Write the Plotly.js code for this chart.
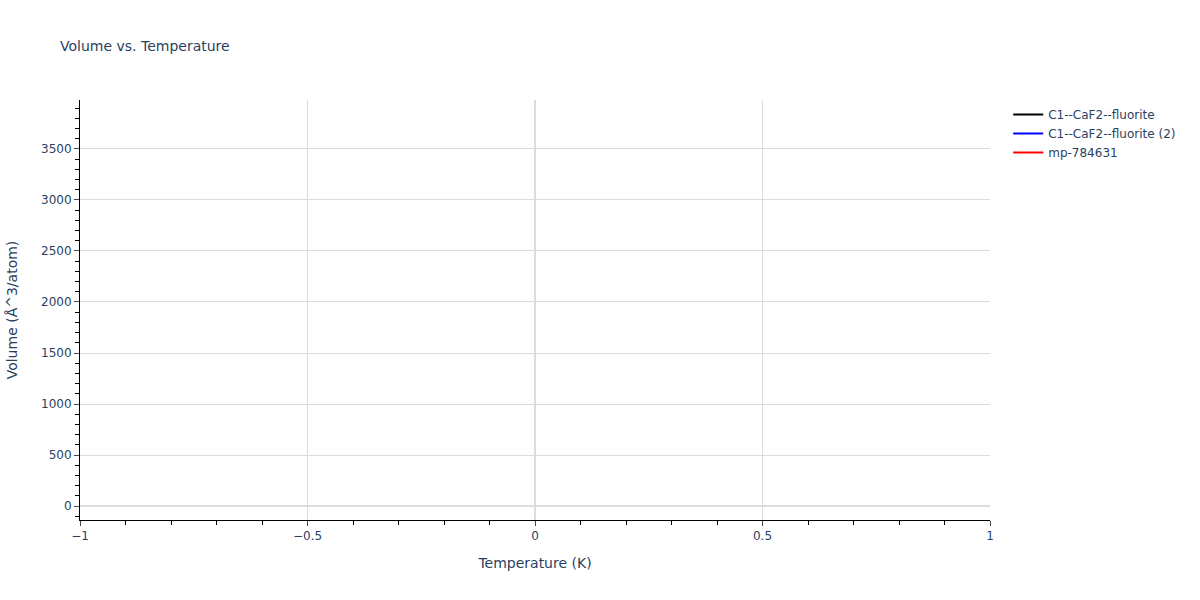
<!DOCTYPE html>
<html>
<head>
<meta charset="utf-8">
<script src="https://cdn.plot.ly/plotly-3.0.1.min.js"></script>
<style>
  body{margin:0;padding:0;}
  #chart{width:1200px;height:600px;}
</style>
</head>
<body>
<div id="chart"></div>
<script>
"use strict"

// every phase has only one temperature sample, so no line segment is drawn
const names = ["C1--CaF2--fluorite", "C1--CaF2--fluorite (2)", "mp-784631"]
const colors = ["black", "blue", "red"]
const temperature = [0]
const volumeA = [40.9]
const volumeB = [40.9]
const volumeC = [3780]
const volumes = [volumeA, volumeB, volumeC]

const data = names.map((v,i)=>({
  x: temperature,
  y: volumes[i],
  mode: "lines",
  type: "scatter",
  name: v,
  line: {color: colors[i], width: 2},
}))

const axisStyle = {
  showline: true,
  linecolor: "black",
  linewidth: 1,
  ticks: "outside",
  tickcolor: "#444",
  gridcolor: "#dcdcdc",
  zerolinecolor: "#dcdcdc",
  zerolinewidth: 2,
  tickfont: {size: 12, color: "#2a3f5f"},
}

const layout = {
  width: 1200,
  height: 600,
  font: {family: "DejaVu Sans, Verdana, sans-serif", color: "#2a3f5f"},
  paper_bgcolor: "white",
  plot_bgcolor: "white",
  title: {text: "Volume vs. Temperature", x: 0.05, y: 0.932, font: {size: 14, color: "#2a3f5f"}},
  margin: {l: 80, r: 210, t: 100, b: 80, pad: 0},
  showlegend: true,
  legend: {x: 1.02, y: 1, font: {size: 12, color: "#2a3f5f"}},
  xaxis: Object.assign({}, axisStyle, {
    title: {text: "Temperature (K)", font: {size: 14}, standoff: 15},
    automargin: false,
    range: [-1, 1],
    dtick: 0.5,
    minor: {ticks: "outside", dtick: 0.1, tickcolor: "black", ticklen: 4, showgrid: false},
  }),
  yaxis: Object.assign({}, axisStyle, {
    title: {text: "Volume (Å^3/atom)", font: {size: 14}, standoff: 20},
    automargin: false,
    range: [-137, 3980],
    dtick: 500,
    minor: {ticks: "outside", dtick: 100, tickcolor: "black", ticklen: 4, showgrid: false},
  }),
}

Plotly.newPlot("chart", data, layout, {displayModeBar: false})
</script>
</body>
</html>
